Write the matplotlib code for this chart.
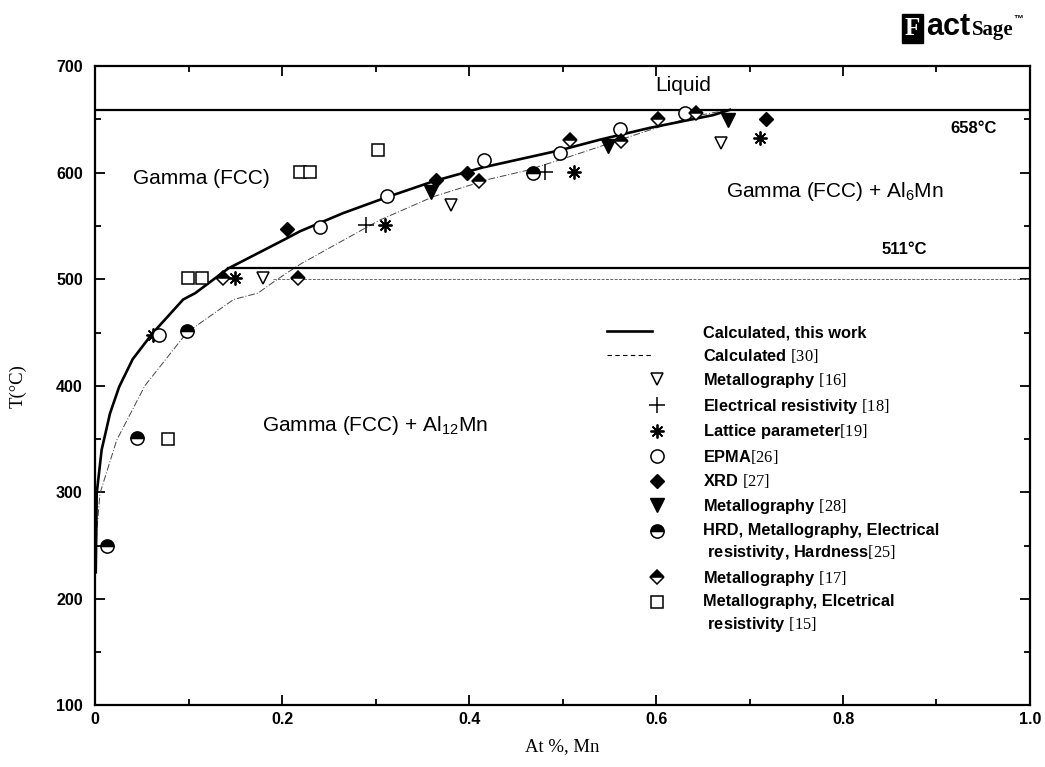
import numpy as np
import matplotlib
matplotlib.use("Agg")
import matplotlib.pyplot as plt
from matplotlib.lines import Line2D
from matplotlib.legend_handler import HandlerLine2D

plt.rcParams['font.family'] = ['Liberation Sans', 'DejaVu Sans']
plt.rcParams['mathtext.fontset'] = 'custom'
plt.rcParams['mathtext.rm'] = 'Liberation Serif'
plt.rcParams['mathtext.sf'] = 'Liberation Sans'
plt.rcParams['mathtext.it'] = 'Liberation Serif:italic'
plt.rcParams['mathtext.bf'] = 'Liberation Serif:bold'

# calculated solvus, this work
calc_x = [0.0005, 0.0015, 0.0068, 0.011, 0.0157, 0.0255, 0.04, 0.061, 0.094, 0.107,
          0.142, 0.204, 0.219, 0.265, 0.312, 0.362, 0.415, 0.497, 0.540, 0.593, 0.661, 0.679]
calc_T = [225, 299, 340, 356, 374, 399, 425, 449, 481, 487,
          510, 538, 545, 562, 577, 592, 605, 621, 631, 642, 654, 659]

# calculated [30]
ref30_x = [0.0005, 0.002, 0.005, 0.0229, 0.053, 0.098, 0.148, 0.174, 0.190, 0.205, 0.221,
           0.3045, 0.3616, 0.422, 0.461, 0.497, 0.561, 0.600, 0.639, 0.661, 0.68]
ref30_T = [245, 268, 299, 349, 400, 450, 481, 487, 497, 506, 515,
           555.6, 577.5, 594, 602, 612, 630.7, 642, 652.5, 656.3, 659]

T_liquid = 659
T_eut = 511
T_eut30 = 500
x_eut_start = 0.142
x_eut30_start = 0.190

# experimental data
met16_x = [0.179, 0.381, 0.669]
met16_T = [501, 570, 628]
res18_x = [0.290, 0.481]
res18_T = [551, 601]
lat19_x = [0.062, 0.149, 0.310, 0.512, 0.711]
lat19_T = [448, 501, 551, 601, 633]
epma_x = [0.068, 0.240, 0.312, 0.416, 0.497, 0.561, 0.631]
epma_T = [448, 549, 578, 612, 618, 641, 656]
xrd_x = [0.205, 0.365, 0.398, 0.718]
xrd_T = [547, 593, 600, 650]
met28_x = [0.359, 0.549, 0.677]
met28_T = [582, 625, 649]
hrd_x = [0.012, 0.045, 0.098, 0.4685]
hrd_T = [250, 351, 451, 600]
met17_x = [0.137, 0.217, 0.410, 0.508, 0.562, 0.602, 0.643]
met17_T = [501, 501, 592, 631, 630, 650, 656]
met15_x = [0.078, 0.0995, 0.114, 0.219, 0.230, 0.302]
met15_T = [350, 501, 501, 601, 601, 621]

fig = plt.figure(figsize=(10.45, 7.67), dpi=100)
ax = fig.add_axes([0.0912, 0.0802, 0.8944, 0.8336])

ax.plot(calc_x, calc_T, color='black', lw=1.9, zorder=3)
ax.plot(ref30_x, ref30_T, color='#444444', lw=0.7, ls=(0, (7, 2, 1, 2)), zorder=2)
ax.plot([0, 1], [T_liquid, T_liquid], color='black', lw=1.6, zorder=3)
ax.plot([x_eut_start, 1], [T_eut, T_eut], color='black', lw=1.6, zorder=3)
ax.plot([x_eut30_start, 1], [T_eut30, T_eut30], color='#666666', lw=0.7, ls=(0, (3, 1.5)), zorder=2)

styles = [
    (met16_x, met16_T, dict(marker='v', ms=9, mfc='white', mec='black', mew=1.1),
     r'Metallography $\mathrm{[16]}$'),
    (res18_x, res18_T, dict(marker='+', ms=11, mec='black', mew=1.1),
     r'Electrical resistivity $\mathrm{[18]}$'),
    (lat19_x, lat19_T, dict(marker=(8, 2, 0), ms=10, mec='black', mew=1.3),
     r'Lattice parameter$\mathrm{[19]}$'),
    (epma_x, epma_T, dict(marker='o', ms=9.5, mfc='white', mec='black', mew=1.1),
     r'EPMA$\mathrm{[26]}$'),
    (xrd_x, xrd_T, dict(marker='D', ms=7.5, mfc='black', mec='black', mew=1.0),
     r'XRD $\mathrm{[27]}$'),
    (met28_x, met28_T, dict(marker='v', ms=9.5, mfc='black', mec='black', mew=1.0),
     r'Metallography $\mathrm{[28]}$'),
    (hrd_x, hrd_T, dict(marker='o', ms=9.5, fillstyle='top', mfc='black', mfcalt='white', mec='black', mew=1.1),
     'HRD, Metallography, Electrical\n resistivity, Hardness$\\mathrm{[25]}$'),
    (met17_x, met17_T, dict(marker='D', ms=7.5, fillstyle='top', mfc='black', mfcalt='white', mec='black', mew=1.1),
     r'Metallography $\mathrm{[17]}$'),
    (met15_x, met15_T, dict(marker='s', ms=8, mfc='white', mec='black', mew=1.1),
     'Metallography, Elcetrical\n resistivity $\\mathrm{[15]}$'),
]

handles = [Line2D([], [], color='black', lw=1.9),
           Line2D([], [], color='black', lw=0.8, ls=(0, (4, 3)))]
labels = ['Calculated, this work', r'Calculated $\mathrm{[30]}$']
for xs, ts, st, lab in styles:
    ax.plot(xs, ts, ls='none', zorder=4, **st)
    handles.append(Line2D([], [], ls='none', **st))
    labels.append(lab)


class RightMarker(HandlerLine2D):
    # marker at the right end of the handle box, raised for two-line labels
    def __init__(self, dy=0, **kw):
        super().__init__(**kw)
        self.dy = dy

    def create_artists(self, legend, orig_handle, xdescent, ydescent, width, height, fontsize, trans):
        arts = super().create_artists(legend, orig_handle, xdescent, ydescent,
                                      width, height, fontsize, trans)
        for a in arts:
            n = len(a.get_xdata())
            a.set_xdata(np.full(n, width - xdescent + 4))
            a.set_ydata(np.asarray(a.get_ydata()) + self.dy)
        return arts


hmap = {}
for h, lab in zip(handles[2:], labels[2:]):
    hmap[h] = RightMarker(dy=8.5 if '\n' in lab else 0, numpoints=1)
leg = ax.legend(handles, labels, handler_map=hmap, loc='upper left',
                bbox_to_anchor=(0.548, 0.595), frameon=False, borderpad=0,
                borderaxespad=0, handlelength=2.7, handletextpad=3.1,
                labelspacing=0.4, prop=dict(size=11.8, weight='bold'))
for t in leg.get_texts():
    t.set_linespacing(1.4)

# region labels
ax.text(0.599, 682, 'Liquid', fontsize=15, va='center', ha='left')
ax.text(0.0406, 595, 'Gamma (FCC)', fontsize=15, va='center', ha='left')
ax.text(0.675, 582, r'Gamma (FCC) + Al$_\mathsf{6}$Mn', fontsize=15, va='center', ha='left')
ax.text(0.178, 363, r'Gamma (FCC) + Al$_\mathsf{12}$Mn', fontsize=15, va='center', ha='left')
ax.text(0.940, 641.5, '658°C', fontsize=12, weight='bold', va='center', ha='center')
ax.text(0.841, 527.5, '511°C', fontsize=12, weight='bold', va='center', ha='left')

ax.set_xlim(0, 1.0)
ax.set_ylim(100, 700)
ax.set_xticks([0, 0.2, 0.4, 0.6, 0.8, 1.0])
ax.set_xticklabels(['0', '0.2', '0.4', '0.6', '0.8', '1.0'])
ax.set_xticks([0.1, 0.3, 0.5, 0.7, 0.9], minor=True)
ax.set_yticks(np.arange(100, 701, 100))
ax.set_yticks(np.arange(150, 700, 100), minor=True)
ax.tick_params(which='both', direction='in', top=True, right=True, width=1.3)
ax.tick_params(which='major', length=7)
ax.tick_params(which='minor', length=4)
ax.tick_params(axis='y', pad=9)
ax.tick_params(axis='x', pad=5)
for lab in ax.get_xticklabels() + ax.get_yticklabels():
    lab.set_fontweight('bold')
    lab.set_fontsize(11.5)
for sp in ax.spines.values():
    sp.set_linewidth(1.6)

ax.set_xlabel('At %, Mn', family='Liberation Serif', fontsize=13.5, labelpad=8)
ax.set_ylabel('T(°C)', family='Liberation Serif', fontsize=13.5, labelpad=21)

# logo
fig.text(0.873, 0.955, 'F', color='white', fontsize=18, weight='bold', family='Liberation Serif',
         ha='center', va='baseline', bbox=dict(boxstyle='square,pad=0.12', fc='black', ec='black'))
fig.text(0.886, 0.955, 'act', fontsize=22, weight='bold', family='Liberation Sans', va='baseline')
fig.text(0.930, 0.955, 'Sage', fontsize=15, family='Liberation Serif', weight='bold', va='baseline')
fig.text(0.970, 0.975, '™', fontsize=7, weight='bold', va='center')

fig.savefig('out.png', dpi=100)
